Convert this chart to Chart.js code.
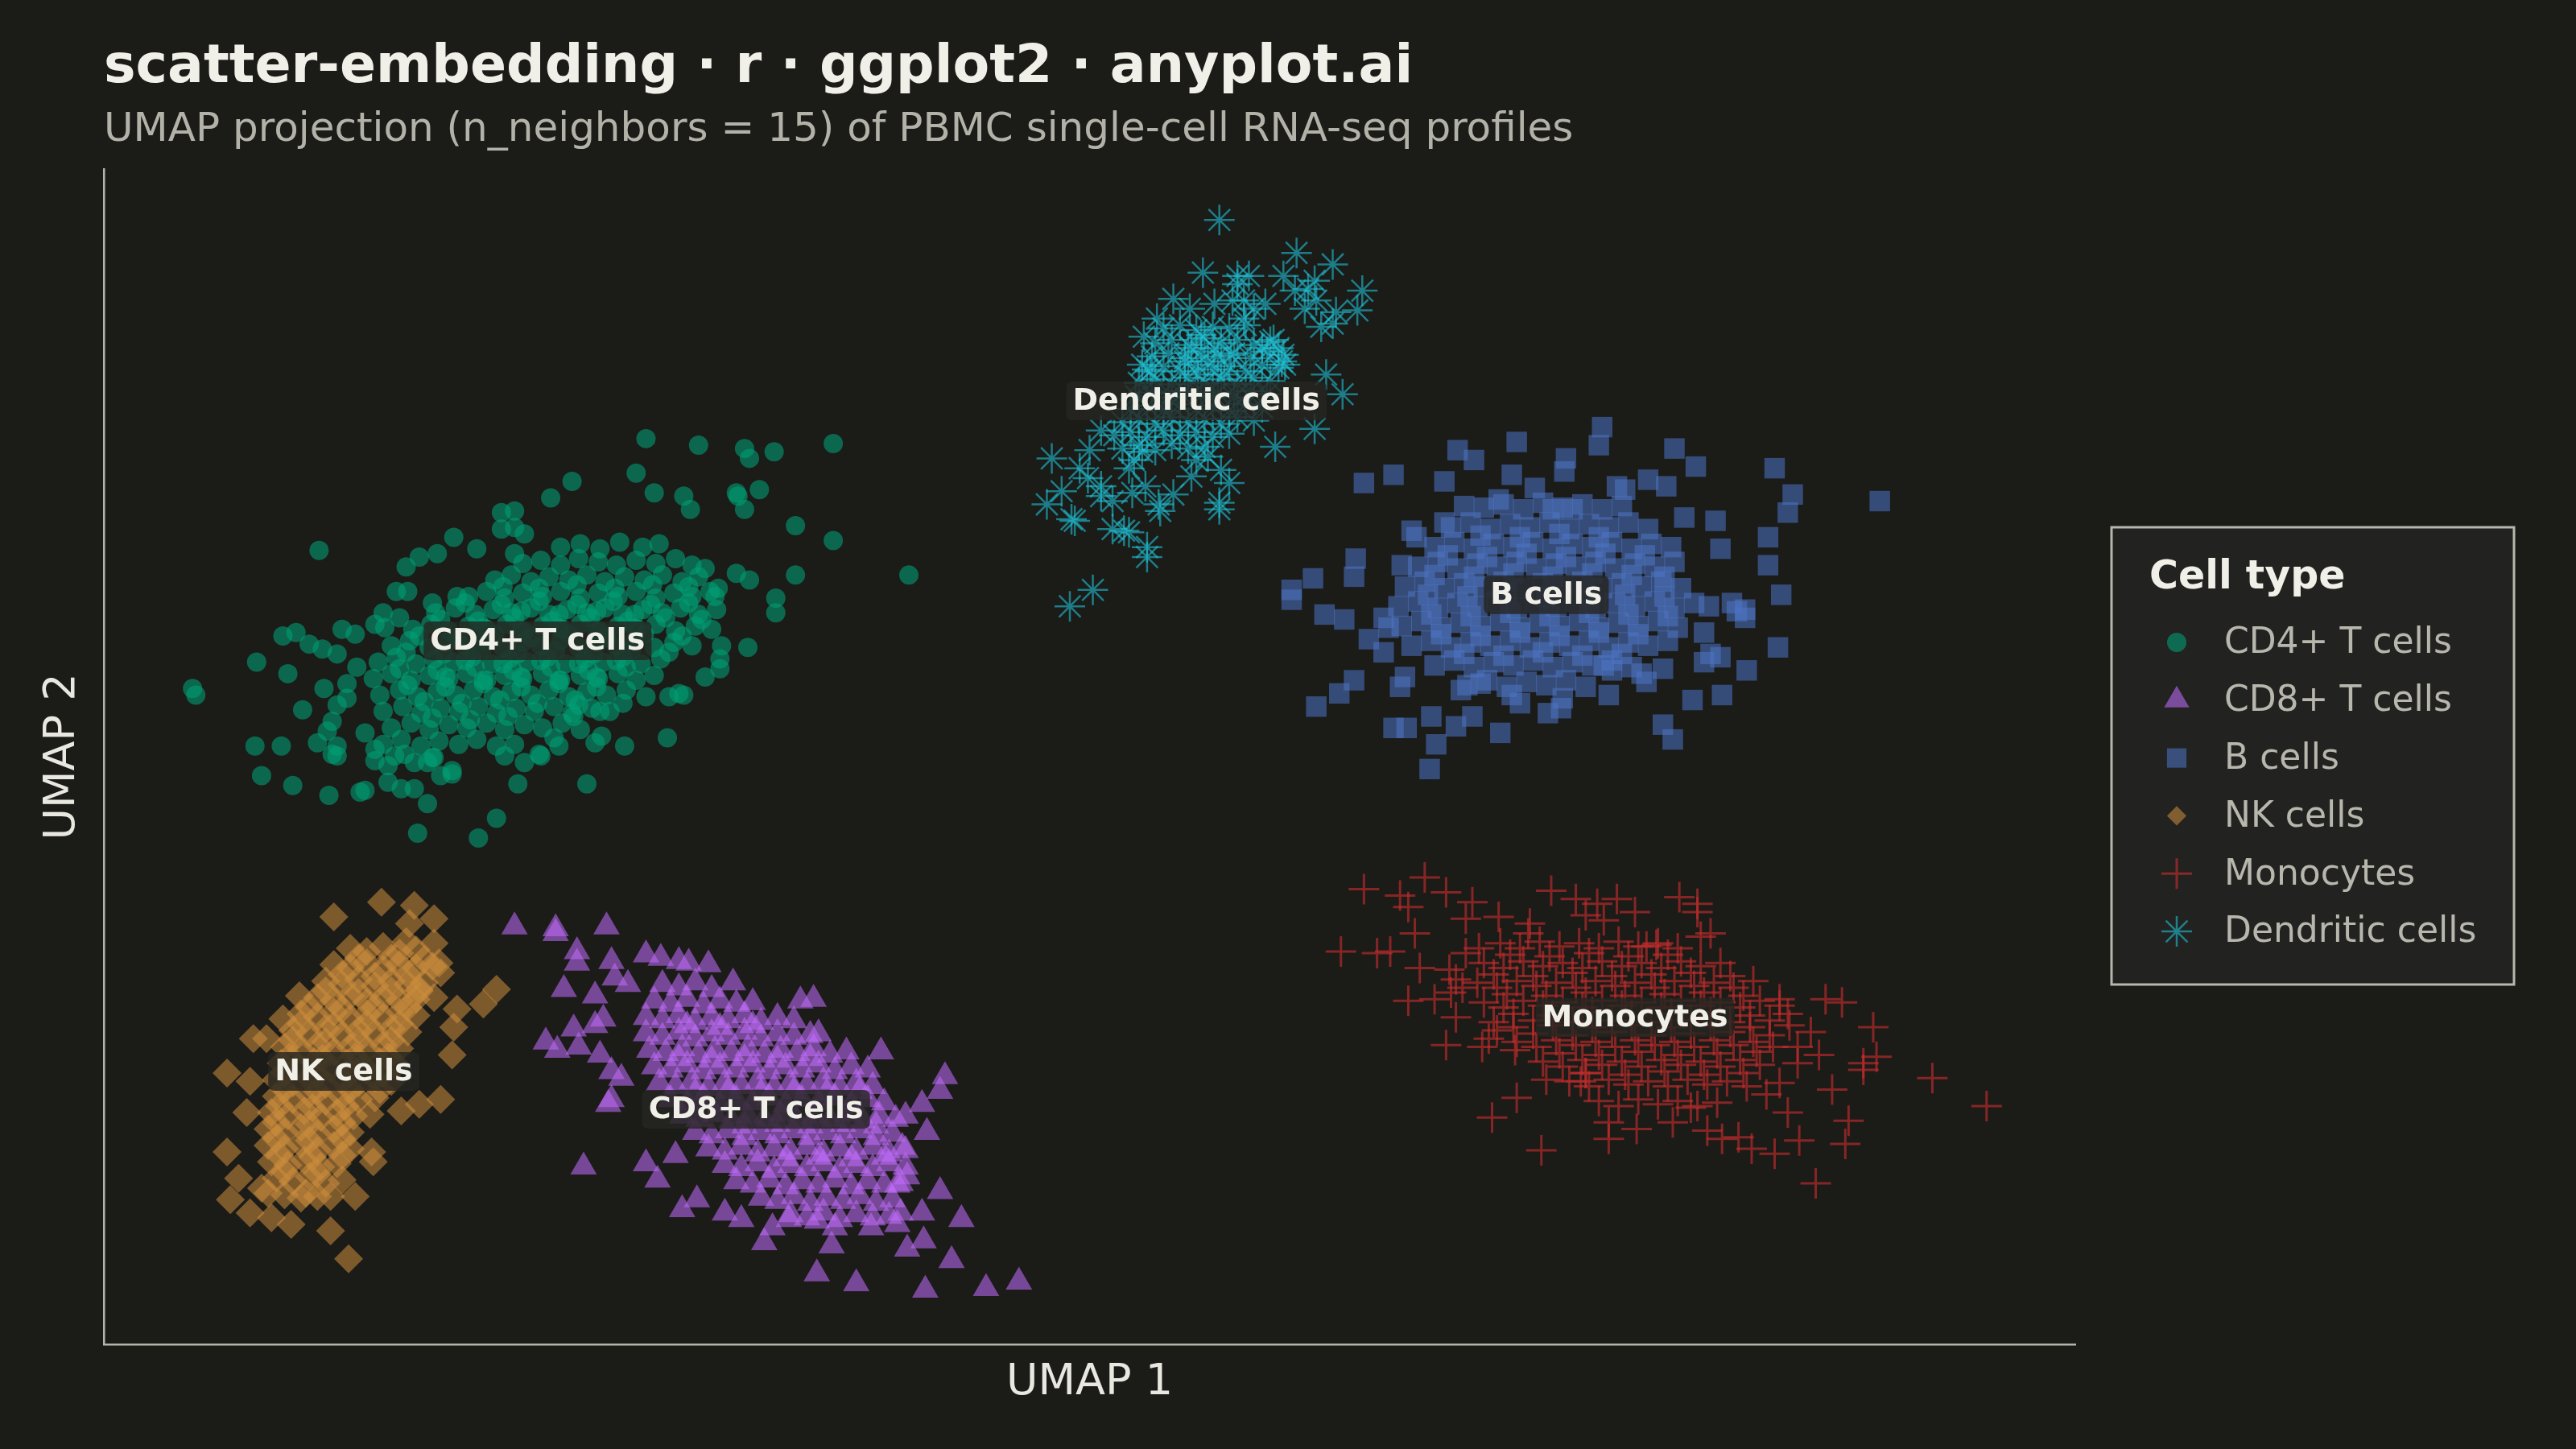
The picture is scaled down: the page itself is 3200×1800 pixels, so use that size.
<!DOCTYPE html>
<html>
<head>
<meta charset="utf-8">
<script src="https://cdn.jsdelivr.net/npm/chart.js@4.4.1/dist/chart.umd.min.js"></script>
<style>
html,body{margin:0;padding:0;background:#1b1b18;overflow:hidden;}
canvas{display:block;}
</style>
</head>
<body>
<canvas id="c" width="3200" height="1800" style="width:3200px;height:1800px"></canvas>
<script>
// ---------------- DATA ----------------
const cellTypes = ['CD4+ T cells','CD8+ T cells','B cells','NK cells','Monocytes','Dendritic cells'];

const cd4 = [
[-2.70,1.93],[-2.38,1.89],[-2.10,1.87],[-2.07,1.81],[-1.92,1.85],[-1.56,1.90],[-2.76,1.72],[-3.15,1.67],[-3.28,1.57],[-2.65,1.60],[-2.47,1.58],[-2.43,1.50],[-2.14,1.58],[-2.01,1.62],[-2.10,1.50],[-1.79,1.40],[-1.56,1.31],[-1.10,1.10],[-1.79,1.10],[-1.91,0.96],[-1.91,0.87],[-2.08,0.66],[-2.25,0.59],[-2.34,0.48],[-2.47,0.37],[-2.57,0.11],[-2.83,0.06],[-3.06,-0.17],[-2.97,0.12],[-3.01,0.08],[-3.34,0.00],[-3.44,-0.04],[-3.48,-0.17],[-3.61,-0.38],[-3.72,-0.50],[-4.09,-0.47],[-4.03,-0.29],[-4.11,-0.20],[-4.27,-0.16],[-4.41,-0.21],[-4.44,-0.22],[-4.63,-0.24],[-4.85,-0.18],[-5.04,-0.12],[-5.08,0.06],[-4.92,0.06],[-4.70,0.08],[-4.58,0.00],[-4.79,0.28],[-4.88,0.50],[-5.07,0.57],[-5.46,0.41],[-5.44,0.37],[-4.91,0.73],[-4.83,0.75],[-4.75,0.68],[-4.69,1.25],[-4.55,0.77],[-4.46,0.54],[-4.30,0.87],[-4.16,1.15],[-4.08,1.21],[-3.97,1.23],[-3.87,1.33],[-4.22,1.00],[-4.15,1.00],[-4.00,0.93],[-3.85,0.97],[-3.73,1.26],[-3.58,1.48],[-3.50,1.49],[-3.58,1.38],[-3.50,1.39],[-3.44,1.35],[-3.50,1.23],[-2.15,1.60],[-2.34,1.14],[-2.26,1.02],[-2.28,0.97],[-2.15,1.11],[-2.07,1.07],[-2.24,0.67],[-2.25,0.53],[-2.50,0.38],[-2.56,0.36],[-2.84,0.32],[-2.98,0.27],[-3.11,0.31],[-3.14,0.24],[-3.26,0.11],[-3.23,0.06],[-3.35,0.01],[-3.50,0.07],[-3.56,0.00],[-3.88,-0.09],[-3.88,-0.11],[-3.95,-0.12],[-4.19,-0.20],[-4.03,-0.04],[-4.00,-0.01],[-4.27,-0.06],[-4.17,0.01],[-4.35,0.04],[-4.41,0.14],[-4.58,0.06],[-4.61,0.01],[-4.64,0.15],[-4.61,0.21],[-4.58,0.31],[-4.52,0.35],[-4.66,0.41],[-4.52,0.44],[-4.67,0.65],[-4.58,0.62],[-4.47,0.74],[-4.35,0.80],[-4.29,0.78],[-4.20,0.84],
[-3.22,1.27],[-3.10,1.29],[-2.98,1.26],[-2.86,1.30],[-2.72,1.27],[-2.62,1.29],
[-3.45,1.17],[-3.34,1.19],[-3.22,1.16],[-3.11,1.20],[-2.99,1.18],[-2.88,1.16],[-2.76,1.19],[-2.64,1.17],[-2.52,1.20],[-2.42,1.16],
[-3.62,1.07],[-3.52,1.10],[-3.40,1.06],[-3.29,1.09],[-3.17,1.07],[-3.06,1.10],[-2.95,1.06],[-2.83,1.09],[-2.71,1.07],[-2.60,1.10],[-2.48,1.06],[-2.38,1.09],
[-3.78,0.97],[-3.67,1.00],[-3.56,0.96],[-3.45,0.99],[-3.33,0.97],[-3.22,1.00],[-3.10,0.96],[-2.99,0.99],[-2.87,0.97],[-2.76,1.00],[-2.64,0.96],[-2.53,0.99],[-2.42,0.97],[-2.31,1.00],
[-3.98,0.87],[-3.86,0.90],[-3.74,0.86],[-3.63,0.89],[-3.52,0.87],[-3.40,0.90],[-3.29,0.86],[-3.18,0.89],[-3.06,0.87],[-2.95,0.90],[-2.84,0.86],[-2.72,0.89],[-2.60,0.87],[-2.49,0.90],[-2.38,0.86],[-2.27,0.89],
[-4.12,0.77],[-4.01,0.80],[-3.90,0.76],[-3.78,0.79],[-3.67,0.77],[-3.55,0.80],[-3.44,0.76],[-3.33,0.79],[-3.21,0.77],[-3.10,0.80],[-2.98,0.76],[-2.87,0.79],[-2.75,0.77],[-2.64,0.80],[-2.52,0.76],[-2.40,0.79],[-2.30,0.77],
[-4.25,0.67],[-4.14,0.70],[-4.02,0.66],[-3.91,0.69],[-3.80,0.67],[-3.68,0.70],[-3.57,0.66],[-3.45,0.69],[-3.34,0.67],[-3.22,0.70],[-3.11,0.66],[-2.99,0.69],[-2.88,0.67],[-2.77,0.70],[-2.65,0.66],[-2.53,0.69],[-2.42,0.67],
[-4.33,0.57],[-4.22,0.60],[-4.10,0.56],[-3.99,0.59],[-3.87,0.57],[-3.76,0.60],[-3.64,0.56],[-3.53,0.59],[-3.42,0.57],[-3.30,0.60],[-3.19,0.56],[-3.07,0.59],[-2.96,0.57],[-2.84,0.60],[-2.73,0.56],[-2.61,0.59],
[-4.36,0.47],[-4.25,0.50],[-4.13,0.46],[-4.02,0.49],[-3.90,0.47],[-3.79,0.50],[-3.67,0.46],[-3.56,0.49],[-3.45,0.47],[-3.33,0.50],[-3.22,0.46],[-3.10,0.49],[-2.99,0.47],[-2.87,0.50],[-2.76,0.46],[-2.65,0.49],
[-4.32,0.37],[-4.20,0.40],[-4.09,0.36],[-3.97,0.39],[-3.86,0.37],[-3.75,0.40],[-3.63,0.36],[-3.52,0.39],[-3.40,0.37],[-3.29,0.40],[-3.17,0.36],[-3.06,0.39],[-2.94,0.37],[-2.82,0.40],[-2.70,0.36],
[-4.30,0.27],[-4.18,0.30],[-4.07,0.26],[-3.95,0.29],[-3.84,0.27],[-3.72,0.30],[-3.61,0.26],[-3.49,0.29],[-3.38,0.27],[-3.26,0.30],[-3.15,0.26],[-3.03,0.29],[-2.92,0.27],
[-4.25,0.17],[-4.13,0.20],[-4.02,0.16],[-3.90,0.19],[-3.79,0.17],[-3.67,0.20],[-3.56,0.16],[-3.44,0.19],[-3.33,0.17],[-3.21,0.20],[-3.10,0.16],
[-4.30,0.07],[-4.19,0.10],[-4.07,0.06],[-3.96,0.09],[-3.84,0.07],[-3.73,0.10],[-3.61,0.06],
[-4.35,-0.03],[-4.23,0.00],[-4.11,-0.04],[-3.99,-0.01],
[-3.57,1.03],[-3.35,1.02],[-3.12,1.04],[-2.89,1.02],[-2.66,1.04],[-2.44,1.03],
[-3.80,0.93],[-3.58,0.92],[-3.35,0.94],[-3.12,0.92],[-2.90,0.94],[-2.67,0.92],[-2.44,0.93],
[-3.95,0.83],[-3.72,0.82],[-3.50,0.84],[-3.27,0.82],[-3.04,0.84],[-2.81,0.82],[-2.58,0.84],[-2.36,0.83],
[-4.08,0.73],[-3.85,0.72],[-3.62,0.74],[-3.40,0.72],[-3.17,0.74],[-2.94,0.72],[-2.71,0.74],[-2.48,0.73],
[-4.16,0.63],[-3.93,0.62],[-3.70,0.64],[-3.48,0.62],[-3.25,0.64],[-3.02,0.62],[-2.79,0.64],[-2.56,0.63],
[-4.20,0.53],[-3.97,0.52],[-3.74,0.54],[-3.51,0.52],[-3.28,0.54],[-3.05,0.52],[-2.82,0.54],
[-4.15,0.43],[-3.92,0.42],[-3.69,0.44],[-3.46,0.42],[-3.23,0.44],[-3.00,0.42],
[-4.05,0.33],[-3.82,0.32],[-3.59,0.34],[-3.36,0.32],[-3.13,0.34],
[-4.00,0.23],[-3.77,0.22],[-3.54,0.24],
[-3.46,0.88],[-3.23,0.86],[-3.00,0.88],[-2.77,0.86],[-3.69,0.78],[-3.46,0.76],[-3.23,0.78],[-3.00,0.76],[-2.77,0.78],
[-3.80,0.58],[-3.57,0.56],[-3.34,0.58],[-3.11,0.56],[-2.88,0.58],[-3.92,0.48],[-3.69,0.46],[-3.46,0.48],[-3.23,0.46],[-3.00,0.48]
];

const cd8 = [
[-3.50,-1.04],[-3.25,-1.05],[-3.25,-1.08],[-2.94,-1.04],[-3.12,-1.19],[-3.12,-1.26],[-2.91,-1.25],[-2.70,-1.21],[-2.61,-1.23],[-2.50,-1.25],[-2.44,-1.26],[-2.32,-1.27],[-3.20,-1.42],[-3.01,-1.46],[-2.89,-1.35],[-2.81,-1.39],[-2.17,-1.38],[-1.76,-1.49],[-1.68,-1.48],[-1.65,-1.69],[-3.31,-1.74],[-3.24,-1.79],[-3.14,-1.66],[-3.01,-1.64],[-2.96,-1.60],[-3.11,-1.77],[-2.98,-1.82],[-2.91,-1.92],[-2.85,-1.96],[-2.91,-2.09],[-2.93,-2.12],[-1.27,-1.80],[-0.88,-1.95],[-0.91,-2.04],[-1.02,-2.12],[-1.12,-2.19],[-0.99,-2.29],[-1.14,-2.38],[-0.91,-2.65],[-1.02,-2.78],[-0.78,-2.82],[-1.01,-2.95],[-1.11,-3.00],[-0.84,-3.07],[-0.43,-3.20],[-0.63,-3.24],[-1.00,-3.25],[-1.42,-3.21],[-1.66,-3.15],[-1.98,-2.96],[-1.57,-2.98],[-1.33,-2.87],[-1.83,-2.82],[-2.12,-2.82],[-2.22,-2.78],[-2.48,-2.76],[-2.39,-2.70],[-2.63,-2.58],[-2.70,-2.48],[-3.08,-2.50],[-2.52,-2.43],[-1.15,-2.78],[-1.17,-2.85],[-1.66,-2.83],[-1.55,-2.87],[-1.93,-2.87],[-1.11,-2.56],[-1.17,-2.61],
[-2.60,-1.39],[-2.50,-1.41],[-2.40,-1.38],[-2.30,-1.42],
[-2.65,-1.49],[-2.55,-1.51],[-2.45,-1.48],[-2.35,-1.52],[-2.25,-1.49],[-2.15,-1.51],[-2.05,-1.50],
[-2.70,-1.59],[-2.60,-1.61],[-2.50,-1.58],[-2.40,-1.62],[-2.30,-1.59],[-2.20,-1.61],[-2.10,-1.58],[-2.00,-1.62],[-1.90,-1.59],[-1.80,-1.61],
[-2.70,-1.69],[-2.60,-1.71],[-2.50,-1.68],[-2.40,-1.72],[-2.30,-1.69],[-2.20,-1.71],[-2.10,-1.68],[-2.00,-1.72],[-1.90,-1.69],[-1.80,-1.71],[-1.70,-1.70],
[-2.68,-1.79],[-2.58,-1.81],[-2.48,-1.78],[-2.38,-1.82],[-2.28,-1.79],[-2.18,-1.81],[-2.08,-1.78],[-1.98,-1.82],[-1.88,-1.79],[-1.78,-1.81],[-1.68,-1.78],[-1.58,-1.82],[-1.48,-1.80],
[-2.65,-1.89],[-2.55,-1.91],[-2.45,-1.88],[-2.35,-1.92],[-2.25,-1.89],[-2.15,-1.91],[-2.05,-1.88],[-1.95,-1.92],[-1.85,-1.89],[-1.75,-1.91],[-1.65,-1.88],[-1.55,-1.92],[-1.45,-1.89],[-1.35,-1.91],
[-2.62,-1.99],[-2.52,-2.01],[-2.42,-1.98],[-2.32,-2.02],[-2.22,-1.99],[-2.12,-2.01],[-2.02,-1.98],[-1.92,-2.02],[-1.82,-1.99],[-1.72,-2.01],[-1.62,-1.98],[-1.52,-2.02],[-1.42,-1.99],[-1.32,-2.01],
[-2.55,-2.09],[-2.45,-2.11],[-2.35,-2.08],[-2.25,-2.12],[-2.15,-2.09],[-2.05,-2.11],[-1.95,-2.08],[-1.85,-2.12],[-1.75,-2.09],[-1.65,-2.11],[-1.55,-2.08],[-1.45,-2.12],[-1.35,-2.09],[-1.25,-2.11],
[-2.48,-2.19],[-2.38,-2.21],[-2.28,-2.18],[-2.18,-2.22],[-2.08,-2.19],[-1.98,-2.21],[-1.88,-2.18],[-1.78,-2.22],[-1.68,-2.19],[-1.58,-2.21],[-1.48,-2.18],[-1.38,-2.22],[-1.28,-2.19],[-1.18,-2.21],
[-2.40,-2.29],[-2.30,-2.31],[-2.20,-2.28],[-2.10,-2.32],[-2.00,-2.29],[-1.90,-2.31],[-1.80,-2.28],[-1.70,-2.32],[-1.60,-2.29],[-1.50,-2.31],[-1.40,-2.28],[-1.30,-2.32],[-1.20,-2.30],
[-2.32,-2.39],[-2.22,-2.41],[-2.12,-2.38],[-2.02,-2.42],[-1.92,-2.39],[-1.82,-2.41],[-1.72,-2.38],[-1.62,-2.42],[-1.52,-2.39],[-1.42,-2.41],[-1.32,-2.38],[-1.22,-2.42],[-1.12,-2.40],
[-2.22,-2.49],[-2.12,-2.51],[-2.02,-2.48],[-1.92,-2.52],[-1.82,-2.49],[-1.72,-2.51],[-1.62,-2.48],[-1.52,-2.52],[-1.42,-2.49],[-1.32,-2.51],[-1.22,-2.48],[-1.12,-2.50],
[-2.15,-2.59],[-2.05,-2.61],[-1.95,-2.58],[-1.85,-2.62],[-1.75,-2.59],[-1.65,-2.61],[-1.55,-2.58],[-1.45,-2.62],[-1.35,-2.59],[-1.25,-2.61],[-1.15,-2.60],
[-2.00,-2.69],[-1.90,-2.71],[-1.80,-2.68],[-1.70,-2.72],[-1.60,-2.69],[-1.50,-2.71],[-1.40,-2.68],[-1.30,-2.72],[-1.20,-2.70],
[-1.82,-2.79],[-1.72,-2.81],[-1.62,-2.78],[-1.52,-2.82],[-1.42,-2.79],[-1.32,-2.81],[-1.22,-2.80],
[-2.45,-1.64],[-2.25,-1.65],[-2.05,-1.64],[-2.50,-1.84],[-2.30,-1.85],[-2.10,-1.84],[-1.90,-1.85],[-1.70,-1.84],
[-2.40,-2.05],[-2.20,-2.04],[-2.00,-2.05],[-1.80,-2.04],[-1.60,-2.05],[-1.40,-2.04],
[-2.10,-2.25],[-1.90,-2.24],[-1.70,-2.25],[-1.50,-2.24],[-1.30,-2.25],[-1.85,-2.45],[-1.65,-2.44],[-1.45,-2.45],[-1.25,-2.44]
];

const bCells = [
[3.12,2.00],[2.60,1.91],[2.24,1.86],[2.34,1.80],[2.90,1.81],[3.10,1.89],[3.56,1.87],[3.69,1.76],[4.17,1.75],[4.28,1.59],[4.25,1.48],[4.81,1.55],[2.89,1.73],[2.57,1.71],[2.16,1.67],[1.85,1.71],[1.67,1.66],[2.71,1.63],[2.28,1.52],[3.81,1.43],[4.13,1.33],[4.13,1.16],[3.84,1.26],[1.62,1.20],[1.61,1.09],[1.36,1.08],[1.23,1.01],[1.23,0.95],[1.90,1.16],[1.43,0.86],[1.55,0.83],[4.21,0.98],[3.99,0.84],[4.19,0.66],[4.00,0.52],[3.85,0.37],[3.67,0.34],[3.49,0.19],[3.55,0.10],[3.16,0.37],[1.61,0.46],[1.52,0.38],[1.38,0.30],[1.85,0.17],[1.93,0.17],[2.08,0.24],[2.11,0.07],[2.07,-0.08],[2.50,0.14],[2.79,0.26],[2.33,0.24],[2.23,0.18],[3.84,0.60],[3.77,0.91],[3.40,1.68],[3.21,1.64],[3.26,1.62],[2.82,1.50],[2.94,1.50],[2.49,1.56],[1.96,1.37],[1.99,1.33],[2.16,1.42],[3.51,1.64],[3.62,1.45],[3.91,0.93],[3.94,0.88],[3.99,0.89],[3.74,0.75],[3.78,0.62],[3.74,0.57],[3.49,0.53],[3.36,0.50],[3.39,0.45],[3.13,0.55],[3.18,0.52],[2.88,0.35],[2.87,0.29],[2.62,0.32],[2.57,0.37],[2.38,0.44],[2.26,0.40],[1.89,0.42],[1.92,0.48],[1.79,0.63],[1.70,0.71],[1.79,0.84],[1.82,0.78],
[2.40,1.51],[2.52,1.53],[2.64,1.50],[2.76,1.54],[2.88,1.51],[3.00,1.53],[3.12,1.50],[3.24,1.52],
[2.20,1.39],[2.32,1.42],[2.44,1.38],[2.56,1.41],[2.68,1.39],[2.80,1.42],[2.92,1.38],[3.04,1.41],[3.16,1.39],[3.28,1.42],[3.40,1.38],
[2.10,1.27],[2.22,1.30],[2.34,1.26],[2.46,1.29],[2.58,1.27],[2.70,1.30],[2.82,1.26],[2.94,1.29],[3.06,1.27],[3.18,1.30],[3.30,1.26],[3.42,1.29],[3.54,1.27],
[2.00,1.15],[2.12,1.18],[2.24,1.14],[2.36,1.17],[2.48,1.15],[2.60,1.18],[2.72,1.14],[2.84,1.17],[2.96,1.15],[3.08,1.18],[3.20,1.14],[3.32,1.17],[3.44,1.15],[3.56,1.18],
[1.92,1.03],[2.04,1.06],[2.16,1.02],[2.28,1.05],[2.40,1.03],[2.52,1.06],[2.64,1.02],[2.76,1.05],[2.88,1.03],[3.00,1.06],[3.12,1.02],[3.24,1.05],[3.36,1.03],[3.48,1.06],[3.60,1.02],
[1.88,0.91],[2.00,0.94],[2.12,0.90],[2.24,0.93],[2.36,0.91],[2.48,0.94],[2.60,0.90],[2.72,0.93],[2.84,0.91],[2.96,0.94],[3.08,0.90],[3.20,0.93],[3.32,0.91],[3.44,0.94],[3.56,0.90],[3.68,0.93],
[1.90,0.79],[2.02,0.82],[2.14,0.78],[2.26,0.81],[2.38,0.79],[2.50,0.82],[2.62,0.78],[2.74,0.81],[2.86,0.79],[2.98,0.82],[3.10,0.78],[3.22,0.81],[3.34,0.79],[3.46,0.82],[3.58,0.78],
[1.96,0.67],[2.08,0.70],[2.20,0.66],[2.32,0.69],[2.44,0.67],[2.56,0.70],[2.68,0.66],[2.80,0.69],[2.92,0.67],[3.04,0.70],[3.16,0.66],[3.28,0.69],[3.40,0.67],[3.52,0.70],
[2.10,0.55],[2.22,0.58],[2.34,0.54],[2.46,0.57],[2.58,0.55],[2.70,0.58],[2.82,0.54],[2.94,0.57],[3.06,0.55],[3.18,0.58],[3.30,0.54],
[2.30,0.43],[2.42,0.46],[2.54,0.42],[2.66,0.45],[2.78,0.43],[2.90,0.46],[3.02,0.42],
[2.38,1.34],[2.62,1.33],[2.86,1.35],[3.10,1.33],
[2.18,1.22],[2.42,1.21],[2.66,1.23],[2.90,1.21],[3.14,1.23],[3.38,1.22],
[2.10,1.10],[2.34,1.09],[2.58,1.11],[2.82,1.09],[3.06,1.11],[3.30,1.10],[3.50,1.09],
[2.06,0.98],[2.30,0.97],[2.54,0.99],[2.78,0.97],[3.02,0.99],[3.26,0.98],[3.50,0.97],
[2.08,0.86],[2.32,0.85],[2.56,0.87],[2.80,0.85],[3.04,0.87],[3.28,0.86],[3.52,0.85],
[2.14,0.74],[2.38,0.73],[2.62,0.75],[2.86,0.73],[3.10,0.75],[3.34,0.74],
[2.28,0.62],[2.52,0.61],[2.76,0.63],[3.00,0.61],[3.24,0.62]
];

const nkCells = [
[-4.31,-0.89],[-4.60,-0.98],[-4.11,-0.91],[-4.14,-1.02],[-3.99,-0.99],[-4.16,-1.13],[-3.99,-1.14],[-3.61,-1.42],[-3.69,-1.51],[-3.85,-1.54],[-3.87,-1.65],[-3.88,-1.82],[-4.81,-1.46],[-4.91,-1.60],[-5.09,-1.72],[-5.01,-1.72],[-5.25,-1.93],[-5.11,-1.98],[-5.13,-2.17],[-3.95,-2.09],[-4.08,-2.12],[-4.19,-2.16],[-5.25,-2.41],[-4.37,-2.41],[-4.36,-2.47],[-5.18,-2.57],[-5.23,-2.70],[-5.11,-2.78],[-4.98,-2.81],[-4.86,-2.85],[-4.62,-2.89],[-4.51,-3.06],[-4.47,-2.68],[-4.62,-2.68],[-4.77,-2.66],[-3.96,-1.26],[-3.95,-1.32],[-4.08,-1.42],[-3.99,-1.47],[-5.04,-2.63],[-5.00,-2.66],
[-4.50,-1.17],[-4.40,-1.19],[-4.30,-1.16],[-4.20,-1.20],[-4.10,-1.18],
[-4.60,-1.27],[-4.50,-1.29],[-4.40,-1.26],[-4.30,-1.30],[-4.20,-1.27],[-4.10,-1.29],[-4.00,-1.28],
[-4.65,-1.37],[-4.55,-1.39],[-4.45,-1.36],[-4.35,-1.40],[-4.25,-1.37],[-4.15,-1.39],[-4.05,-1.38],
[-4.70,-1.47],[-4.60,-1.49],[-4.50,-1.46],[-4.40,-1.50],[-4.30,-1.47],[-4.20,-1.49],[-4.10,-1.48],
[-4.80,-1.57],[-4.70,-1.59],[-4.60,-1.56],[-4.50,-1.60],[-4.40,-1.57],[-4.30,-1.59],[-4.20,-1.56],[-4.10,-1.58],
[-4.85,-1.67],[-4.75,-1.69],[-4.65,-1.66],[-4.55,-1.70],[-4.45,-1.67],[-4.35,-1.69],[-4.25,-1.66],[-4.15,-1.68],
[-4.90,-1.77],[-4.80,-1.79],[-4.70,-1.76],[-4.60,-1.80],[-4.50,-1.77],[-4.40,-1.79],[-4.30,-1.76],[-4.20,-1.78],
[-4.92,-1.87],[-4.82,-1.89],[-4.72,-1.86],[-4.62,-1.90],[-4.52,-1.87],[-4.42,-1.89],[-4.32,-1.86],[-4.22,-1.88],
[-4.95,-1.97],[-4.85,-1.99],[-4.75,-1.96],[-4.65,-2.00],[-4.55,-1.97],[-4.45,-1.99],[-4.35,-1.96],[-4.25,-1.98],
[-4.95,-2.07],[-4.85,-2.09],[-4.75,-2.06],[-4.65,-2.10],[-4.55,-2.07],[-4.45,-2.09],[-4.35,-2.08],
[-4.98,-2.17],[-4.88,-2.19],[-4.78,-2.16],[-4.68,-2.20],[-4.58,-2.17],[-4.48,-2.19],[-4.38,-2.18],
[-5.00,-2.27],[-4.90,-2.29],[-4.80,-2.26],[-4.70,-2.30],[-4.60,-2.27],[-4.50,-2.29],
[-5.00,-2.37],[-4.90,-2.39],[-4.80,-2.36],[-4.70,-2.40],[-4.60,-2.37],[-4.50,-2.39],
[-4.98,-2.47],[-4.88,-2.49],[-4.78,-2.46],[-4.68,-2.50],[-4.58,-2.48],
[-4.95,-2.57],[-4.85,-2.59],[-4.75,-2.56],[-4.65,-2.60],[-4.55,-2.58],
[-4.90,-2.67],[-4.80,-2.69],[-4.70,-2.68],
[-4.45,-1.23],[-4.25,-1.23],[-4.05,-1.24],
[-4.55,-1.33],[-4.35,-1.34],[-4.15,-1.33],
[-4.65,-1.43],[-4.45,-1.44],[-4.25,-1.43],[-4.08,-1.43],
[-4.75,-1.53],[-4.55,-1.54],[-4.35,-1.53],[-4.15,-1.53],
[-4.80,-1.63],[-4.60,-1.64],[-4.40,-1.63],[-4.20,-1.63],
[-4.85,-1.73],[-4.65,-1.74],[-4.45,-1.73],[-4.25,-1.73],
[-4.87,-1.83],[-4.67,-1.84],[-4.47,-1.83],[-4.27,-1.83],
[-4.90,-1.93],[-4.70,-1.94],[-4.50,-1.93],[-4.30,-1.93],
[-4.90,-2.03],[-4.70,-2.04],[-4.50,-2.03],[-4.32,-2.03],
[-4.93,-2.13],[-4.73,-2.14],[-4.53,-2.13],
[-4.95,-2.23],[-4.75,-2.24],[-4.55,-2.23],
[-4.95,-2.33],[-4.75,-2.34],[-4.55,-2.33],
[-4.93,-2.43],[-4.73,-2.44],[-4.55,-2.43],
[-4.90,-2.53],[-4.70,-2.54]
];

const monocytes = [
[1.67,-0.81],[2.04,-0.74],[1.89,-0.85],[1.94,-0.92],[2.17,-0.83],[2.33,-0.89],[2.29,-0.99],[2.49,-0.98],[1.98,-1.08],[1.53,-1.19],[1.75,-1.20],[1.83,-1.19],[2.01,-1.29],[1.94,-1.49],[2.10,-1.48],[2.19,-1.30],[2.23,-1.59],[2.17,-1.76],[2.39,-1.77],[2.60,-2.08],[2.45,-2.20],[2.75,-2.40],[2.81,-0.82],[2.96,-0.87],[3.09,-0.90],[3.21,-0.87],[3.32,-0.95],[3.59,-0.86],[3.70,-0.90],[3.70,-0.95],[3.78,-1.08],[2.68,-1.02],[4.48,-1.48],[4.58,-1.50],[4.77,-1.65],[4.79,-1.83],[4.71,-1.87],[4.71,-1.91],[5.13,-1.96],[5.46,-2.13],[4.52,-2.03],[4.62,-2.22],[4.60,-2.36],[4.42,-2.60],[4.32,-2.34],[4.25,-2.17],[4.17,-2.42],[4.03,-2.39],[3.95,-2.32],[3.85,-2.33],[3.76,-2.28],[3.33,-2.27],[3.16,-2.33],[3.16,-2.23],[3.55,-2.23],[3.66,-2.14],[4.44,-1.82],[4.39,-1.68],[4.20,-1.48],[4.25,-1.57],[4.31,-1.77],[4.31,-1.87],[4.20,-1.99],[4.12,-2.06],[3.45,-1.15],[3.39,-1.16],[3.72,-1.10],[3.02,-0.97],[3.13,-1.00],[2.67,-1.08],[2.37,-1.17],[2.29,-1.20],[2.27,-1.41],[2.20,-1.44],[2.23,-1.36],[2.43,-1.72],[2.48,-1.67],[2.59,-1.79],[2.78,-1.97],[3.02,-1.93],[2.99,-1.98],
[2.50,-1.14],[2.62,-1.17],[2.74,-1.13],[2.86,-1.16],[2.98,-1.14],[3.10,-1.17],[3.22,-1.13],[3.34,-1.16],[3.46,-1.14],[3.58,-1.17],
[2.40,-1.26],[2.52,-1.29],[2.64,-1.25],[2.76,-1.28],[2.88,-1.26],[3.00,-1.29],[3.12,-1.25],[3.24,-1.28],[3.36,-1.26],[3.48,-1.29],[3.60,-1.25],[3.72,-1.28],[3.84,-1.26],
[2.36,-1.38],[2.48,-1.41],[2.60,-1.37],[2.72,-1.40],[2.84,-1.38],[2.96,-1.41],[3.08,-1.37],[3.20,-1.40],[3.32,-1.38],[3.44,-1.41],[3.56,-1.37],[3.68,-1.40],[3.80,-1.38],[3.92,-1.41],[4.04,-1.37],
[2.40,-1.50],[2.52,-1.53],[2.64,-1.49],[2.76,-1.52],[2.88,-1.50],[3.00,-1.53],[3.12,-1.49],[3.24,-1.52],[3.36,-1.50],[3.48,-1.53],[3.60,-1.49],[3.72,-1.52],[3.84,-1.50],[3.96,-1.53],[4.08,-1.49],[4.20,-1.52],
[2.46,-1.62],[2.58,-1.65],[2.70,-1.61],[2.82,-1.64],[2.94,-1.62],[3.06,-1.65],[3.18,-1.61],[3.30,-1.64],[3.42,-1.62],[3.54,-1.65],[3.66,-1.61],[3.78,-1.64],[3.90,-1.62],[4.02,-1.65],[4.14,-1.61],[4.26,-1.64],
[2.60,-1.74],[2.72,-1.77],[2.84,-1.73],[2.96,-1.76],[3.08,-1.74],[3.20,-1.77],[3.32,-1.73],[3.44,-1.76],[3.56,-1.74],[3.68,-1.77],[3.80,-1.73],[3.92,-1.76],[4.04,-1.74],[4.16,-1.77],
[2.76,-1.86],[2.88,-1.89],[3.00,-1.85],[3.12,-1.88],[3.24,-1.86],[3.36,-1.89],[3.48,-1.85],[3.60,-1.88],[3.72,-1.86],[3.84,-1.89],[3.96,-1.85],[4.08,-1.88],
[2.92,-1.98],[3.04,-2.01],[3.16,-1.97],[3.28,-2.00],[3.40,-1.98],[3.52,-2.01],[3.64,-1.97],[3.76,-2.00],[3.88,-1.98],[4.00,-2.01],
[3.10,-2.10],[3.22,-2.13],[3.34,-2.09],[3.46,-2.12],[3.58,-2.10],[3.70,-2.13],[3.82,-2.11],
[2.56,-1.21],[2.80,-1.22],[3.04,-1.20],[3.28,-1.22],[3.52,-1.21],
[2.46,-1.33],[2.70,-1.34],[2.94,-1.32],[3.18,-1.34],[3.42,-1.33],[3.66,-1.32],[3.90,-1.34],
[2.54,-1.45],[2.78,-1.46],[3.02,-1.44],[3.26,-1.46],[3.50,-1.45],[3.74,-1.44],[3.98,-1.46],
[2.58,-1.57],[2.82,-1.58],[3.06,-1.56],[3.30,-1.58],[3.54,-1.57],[3.78,-1.56],[4.02,-1.58],
[2.70,-1.69],[2.94,-1.70],[3.18,-1.68],[3.42,-1.70],[3.66,-1.69],[3.90,-1.68],[4.14,-1.70],
[2.86,-1.81],[3.10,-1.82],[3.34,-1.80],[3.58,-1.82],[3.82,-1.81],[4.06,-1.80],
[3.02,-1.93],[3.26,-1.94],[3.50,-1.92],[3.74,-1.94],[3.98,-1.93]
];

const dendritic = [
[0.79,3.26],[1.26,3.06],[1.48,2.99],[0.69,2.94],[0.90,2.92],[0.97,2.92],[1.18,2.92],[1.37,2.89],[1.33,2.84],[1.25,2.83],[1.66,2.83],[0.90,2.87],[0.51,2.78],[0.76,2.75],[0.61,2.72],[0.87,2.77],[0.94,2.77],[1.07,2.75],[1.38,2.77],[1.31,2.72],[1.50,2.70],[1.63,2.71],[1.41,2.61],[1.48,2.63],[0.41,2.66],[1.00,2.72],[0.94,2.66],[0.33,2.55],[1.12,2.53],[1.17,2.40],[1.44,2.32],[1.54,2.20],[1.37,1.99],[1.13,1.88],[-0.23,1.81],[-0.06,1.75],[-0.17,1.61],[-0.26,1.53],[-0.11,1.44],[-0.09,1.43],[0.07,1.58],[0.00,1.86],[0.07,1.98],[0.14,1.55],[0.14,1.38],[0.21,1.37],[0.24,1.36],[0.35,1.27],[0.35,1.21],[0.42,1.53],[0.43,1.49],[0.51,1.59],[0.62,1.70],[0.79,1.54],[0.79,1.50],[0.85,1.66],[0.80,1.74],[0.02,1.01],[-0.12,0.91],[0.27,1.80],[0.32,1.85],[0.24,1.75],[0.34,1.64],[0.26,1.60],[0.65,1.80],[0.72,1.82],[0.07,1.64],[-0.01,1.69],[0.32,2.38],[0.37,2.34],[1.05,2.48],[1.15,2.48],[1.19,2.38],
[0.45,2.60],[0.55,2.62],[0.65,2.59],[0.75,2.61],[0.85,2.60],[0.95,2.62],
[0.40,2.51],[0.50,2.53],[0.60,2.50],[0.70,2.54],[0.80,2.51],[0.90,2.53],[1.00,2.50],[1.10,2.52],
[0.38,2.43],[0.48,2.45],[0.58,2.42],[0.68,2.46],[0.78,2.43],[0.88,2.45],[0.98,2.42],[1.08,2.46],[1.18,2.44],
[0.35,2.35],[0.45,2.37],[0.55,2.34],[0.65,2.38],[0.75,2.35],[0.85,2.37],[0.95,2.34],[1.05,2.38],[1.15,2.36],
[0.30,2.27],[0.40,2.29],[0.50,2.26],[0.60,2.30],[0.70,2.27],[0.80,2.29],[0.90,2.26],[1.00,2.30],[1.10,2.28],
[0.28,2.19],[0.38,2.21],[0.48,2.18],[0.58,2.22],[0.68,2.19],[0.78,2.21],[0.88,2.18],[0.98,2.22],[1.08,2.20],
[0.25,2.11],[0.35,2.13],[0.45,2.10],[0.55,2.14],[0.65,2.11],[0.75,2.13],[0.85,2.10],[0.95,2.14],[1.05,2.12],
[0.20,2.03],[0.30,2.05],[0.40,2.02],[0.50,2.06],[0.60,2.03],[0.70,2.05],[0.80,2.02],[0.90,2.06],[1.00,2.04],
[0.15,1.95],[0.25,1.97],[0.35,1.94],[0.45,1.98],[0.55,1.95],[0.65,1.97],[0.75,1.94],[0.85,1.96],
[0.20,1.87],[0.30,1.89],[0.40,1.86],[0.50,1.90],[0.60,1.87],[0.70,1.88],
[0.62,2.48],[0.72,2.40],[0.82,2.32],[0.68,2.56],[0.58,2.40],[0.76,2.48],[0.66,2.32],[0.86,2.44]
];

// cluster label anchors (UMAP units), same order as cellTypes
const labelX = [-3.36, -2.03, 2.78, -4.54, 3.32, 0.65];
const labelY = [0.70, -2.15, 0.98, -1.92, -1.59, 2.16];

const titleText = 'scatter-embedding · r · ggplot2 · anyplot.ai';
const subtitleText = 'UMAP projection (n_neighbors = 15) of PBMC single-cell RNA-seq profiles';
const xTitle = 'UMAP 1';
const yTitle = 'UMAP 2';
const legendTitle = 'Cell type';

// ---------------- STYLE ----------------
const seriesData = [cd4, cd8, bCells, nkCells, monocytes, dendritic];
const styles = [
  {shape:'circle',   radius:12, fill:'rgba(0,160,117,0.58)',  stroke:'rgba(0,160,117,0.58)',  bw:0},
  {shape:'triangle', radius:19, fill:'rgba(192,108,252,0.56)',stroke:'rgba(192,108,252,0.56)',bw:0},
  {shape:'rect',     radius:18, fill:'rgba(76,116,196,0.56)', stroke:'rgba(76,116,196,0.56)', bw:0},
  {shape:'rectRot',  radius:18, fill:'rgba(204,140,60,0.56)', stroke:'rgba(204,140,60,0.56)', bw:0},
  {shape:'cross',    radius:19, fill:'rgba(198,45,45,0.62)',  stroke:'rgba(198,45,45,0.62)',  bw:3},
  {shape:'star',     radius:19, fill:'rgba(32,192,212,0.6)',  stroke:'rgba(32,192,212,0.6)',  bw:2.5}
];
const legendScale = [1.0, 0.95, 0.95, 0.95, 1.0, 1.0];

const FONT = "'DejaVu Sans', 'Liberation Sans', sans-serif";

function drawMarker(ctx, st, x, y, r) {
  ctx.save();
  ctx.fillStyle = st.fill; ctx.strokeStyle = st.stroke; ctx.lineWidth = st.bw || 2.5;
  ctx.beginPath();
  if (st.shape === 'circle') { ctx.arc(x, y, r, 0, Math.PI * 2); ctx.fill(); }
  else if (st.shape === 'triangle') {
    ctx.moveTo(x, y - r); ctx.lineTo(x + r * 0.866, y + r * 0.5); ctx.lineTo(x - r * 0.866, y + r * 0.5); ctx.closePath(); ctx.fill();
  } else if (st.shape === 'rect') { const s = r * Math.SQRT1_2; ctx.rect(x - s, y - s, 2 * s, 2 * s); ctx.fill(); }
  else if (st.shape === 'rectRot') { const s = r * Math.SQRT1_2; ctx.moveTo(x - s, y); ctx.lineTo(x, y + s); ctx.lineTo(x + s, y); ctx.lineTo(x, y - s); ctx.closePath(); ctx.fill(); }
  else if (st.shape === 'cross') { ctx.moveTo(x, y - r); ctx.lineTo(x, y + r); ctx.moveTo(x - r, y); ctx.lineTo(x + r, y); ctx.stroke(); }
  else if (st.shape === 'star') {
    ctx.moveTo(x, y - r); ctx.lineTo(x, y + r); ctx.moveTo(x - r, y); ctx.lineTo(x + r, y);
    const d = r * Math.SQRT1_2;
    ctx.moveTo(x - d, y - d); ctx.lineTo(x + d, y + d); ctx.moveTo(x - d, y + d); ctx.lineTo(x + d, y - d); ctx.stroke();
  }
  ctx.restore();
}

function roundRect(ctx, x, y, w, h, r) {
  ctx.beginPath();
  ctx.moveTo(x + r, y); ctx.lineTo(x + w - r, y); ctx.quadraticCurveTo(x + w, y, x + w, y + r);
  ctx.lineTo(x + w, y + h - r); ctx.quadraticCurveTo(x + w, y + h, x + w - r, y + h);
  ctx.lineTo(x + r, y + h); ctx.quadraticCurveTo(x, y + h, x, y + h - r);
  ctx.lineTo(x, y + r); ctx.quadraticCurveTo(x, y, x + r, y); ctx.closePath();
}

const bgPlugin = {
  id: 'bg',
  beforeDraw(chart) {
    const ctx = chart.ctx;
    ctx.save(); ctx.fillStyle = '#1b1b18'; ctx.fillRect(0, 0, chart.width, chart.height); ctx.restore();
  }
};

const labelPlugin = {
  id: 'clusterLabels',
  afterDatasetsDraw(chart) {
    const ctx = chart.ctx, xs = chart.scales.x, ys = chart.scales.y;
    ctx.save();
    ctx.font = 'bold 38px ' + FONT;
    ctx.textAlign = 'center'; ctx.textBaseline = 'middle';
    cellTypes.forEach((name, i) => {
      const px = xs.getPixelForValue(labelX[i]);
      const py = ys.getPixelForValue(labelY[i]);
      const w = ctx.measureText(name).width;
      roundRect(ctx, px - w / 2 - 8, py - 24, w + 16, 48, 8);
      ctx.fillStyle = 'rgba(38,38,33,0.82)'; ctx.fill();
      ctx.fillStyle = '#f0efe8';
      ctx.fillText(name, px, py + 1);
    });
    ctx.restore();
  }
};

const decorPlugin = {
  id: 'decor',
  afterDraw(chart) {
    const ctx = chart.ctx;
    ctx.save();
    ctx.textAlign = 'left'; ctx.textBaseline = 'alphabetic';
    ctx.fillStyle = '#f0efe8'; ctx.font = 'bold 66.5px ' + FONT;
    ctx.fillText(titleText, 129, 102);
    ctx.fillStyle = '#b3b2a9'; ctx.font = '50px ' + FONT;
    ctx.fillText(subtitleText, 129, 175);
    const lx = 2623, ly = 655, lw = 500, lh = 568;
    ctx.fillStyle = '#222220'; ctx.fillRect(lx, ly, lw, lh);
    ctx.strokeStyle = '#b8b7ae'; ctx.lineWidth = 3; ctx.strokeRect(lx, ly, lw, lh);
    ctx.textBaseline = 'middle';
    ctx.fillStyle = '#f0efe8'; ctx.font = 'bold 49px ' + FONT;
    ctx.fillText(legendTitle, 2670, 718);
    ctx.font = '44px ' + FONT;
    cellTypes.forEach((name, i) => {
      const cy = 798 + i * 71.8;
      const st = styles[i];
      drawMarker(ctx, st, 2704, cy, st.radius * legendScale[i]);
      ctx.fillStyle = '#b8b7ae';
      ctx.fillText(name, 2763, cy + 2);
    });
    ctx.restore();
  }
};

const datasets = cellTypes.map((name, i) => ({
  label: name,
  data: seriesData[i].map(p => ({x: p[0], y: p[1]})),
  pointStyle: styles[i].shape,
  pointRadius: styles[i].radius,
  pointHoverRadius: styles[i].radius,
  backgroundColor: styles[i].fill,
  borderColor: styles[i].stroke,
  borderWidth: styles[i].bw,
  pointBorderWidth: styles[i].bw
}));

new Chart(document.getElementById('c'), {
  type: 'scatter',
  data: { datasets },
  options: {
    responsive: false,
    animation: false,
    devicePixelRatio: 1,
    layout: { padding: { top: 210, right: 622, left: 0, bottom: 0 } },
    plugins: { legend: { display: false }, tooltip: { enabled: false }, title: { display: false } },
    scales: {
      x: {
        type: 'linear', min: -6, max: 6,
        grid: { display: false, drawTicks: false },
        ticks: { display: false },
        border: { display: true, color: '#b5b4ab', width: 2.5 },
        title: { display: true, text: xTitle, color: '#e8e7e0', font: { family: FONT, size: 54, lineHeight: 1.2 }, padding: { top: 0, bottom: 50 } },
        afterFit: (s) => { s.height = 130; }
      },
      y: {
        type: 'linear', min: -3.58, max: 3.57,
        grid: { display: false, drawTicks: false },
        ticks: { display: false },
        border: { display: true, color: '#b5b4ab', width: 2.5 },
        title: { display: true, text: yTitle, color: '#e8e7e0', font: { family: FONT, size: 54, lineHeight: 1.2 }, padding: { top: 46, bottom: 0 } },
        afterFit: (s) => { s.width = 129; }
      }
    }
  },
  plugins: [bgPlugin, labelPlugin, decorPlugin]
});
</script>
</body>
</html>
